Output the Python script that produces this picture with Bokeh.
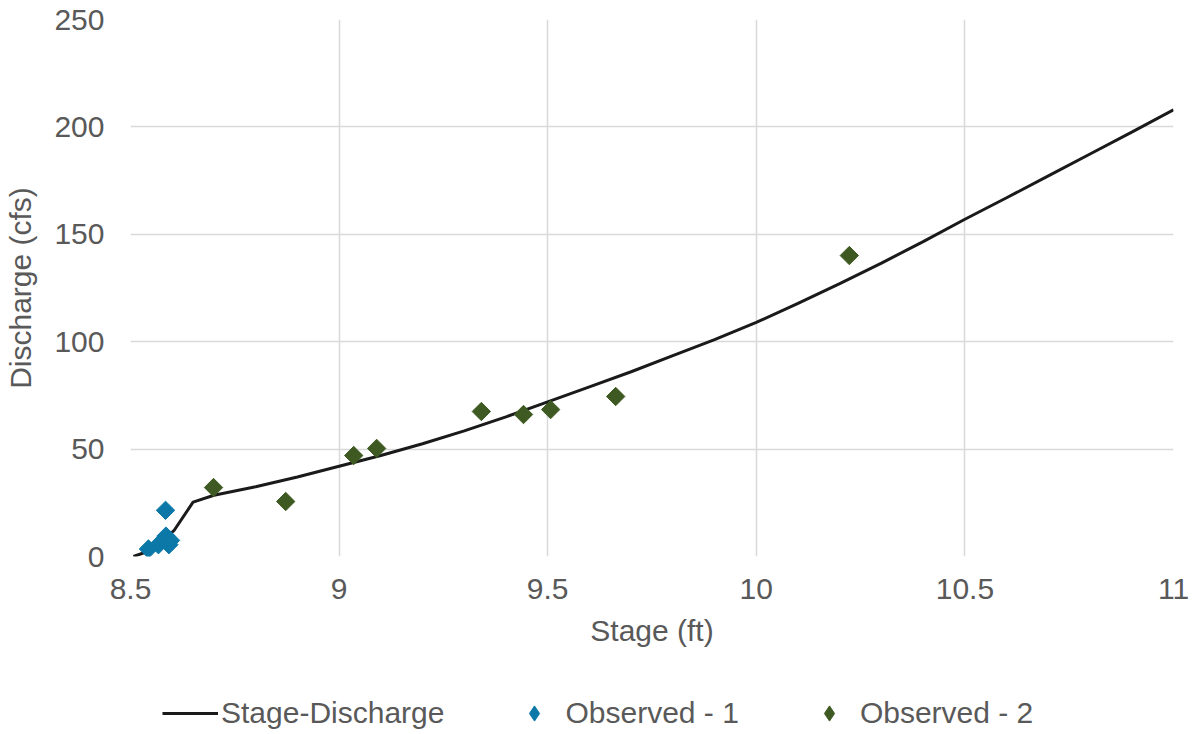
import math
from bokeh.plotting import figure
from bokeh.layouts import column
from bokeh.models import Range1d, Legend, LegendItem, FixedTicker
from bokeh.embed import file_html
from bokeh.resources import INLINE

# Rating curve
curve_stage = [8.507, 8.548, 8.604, 8.65, 8.7, 8.8, 8.9, 9.0, 9.1, 9.2, 9.3, 9.4, 9.5,
               9.6, 9.7, 9.8, 9.9, 10.0, 10.1, 10.2, 10.3, 10.4, 10.5, 10.6, 10.7,
               10.8, 10.9, 11.0]
curve_q = [0, 2.8, 12, 25.3, 28.5, 32.5, 37, 42, 47, 52.5, 58.5, 65, 72,
           79, 86, 93.5, 101, 109, 117.8, 127, 136.6, 146.6, 157, 167, 177.2,
           187.4, 197.6, 208]

obs1_stage = [8.543, 8.567, 8.585, 8.592, 8.596, 8.584]
obs1_q = [3.5, 5.5, 9.5, 5.5, 7.5, 21.5]

obs2_stage = [8.699, 8.872, 9.035, 9.09, 9.341, 9.442, 9.507, 9.663, 10.223]
obs2_q = [32.1, 25.6, 47, 50.3, 67.5, 66.1, 68.4, 74.5, 140.1]

x_ticks = [8.5, 9, 9.5, 10, 10.5, 11]
y_ticks = [0, 50, 100, 150, 200, 250]
series_names = ["Stage-Discharge", "Observed - 1", "Observed - 2"]

FONT = "Liberation Sans"
TXT = "#595959"
GRID = "#d9d9d9"
BLUE = "#0b78a8"
GREEN = "#3e5a22"
LINE = "#1a1a1a"

W, H = 1190, 668
p = figure(width=W, height=H, output_backend="svg", toolbar_location=None,
           x_range=Range1d(8.5, 11), y_range=Range1d(0, 250),
           min_border_left=130, min_border_top=19, min_border_right=W - 1173,
           min_border_bottom=H - 556)
p.outline_line_color = None
p.background_fill_color = "white"

for ax in (p.xaxis, p.yaxis):
    ax.axis_line_color = None
    ax.major_tick_line_color = None
    ax.minor_tick_line_color = None
    ax.major_label_text_font = FONT
    ax.major_label_text_font_size = "30px"
    ax.major_label_text_color = TXT
    ax.axis_label_text_font = FONT
    ax.axis_label_text_font_size = "30px"
    ax.axis_label_text_color = TXT
    ax.axis_label_text_font_style = "normal"

p.xaxis.ticker = FixedTicker(ticks=x_ticks)
p.yaxis.ticker = FixedTicker(ticks=y_ticks)
p.xaxis.major_label_overrides = {8.5: "8.5", 9: "9", 9.5: "9.5", 10: "10", 10.5: "10.5", 11: "11"}
p.xaxis.axis_label = "Stage (ft)"
p.yaxis.axis_label = "Discharge (cfs)"
p.xaxis.major_label_standoff = 16
p.yaxis.major_label_standoff = 20
p.xaxis.axis_label_standoff = 12
p.yaxis.axis_label_standoff = 14

p.xgrid.grid_line_color = GRID
p.ygrid.grid_line_color = GRID
p.xgrid.grid_line_width = 1.5
p.ygrid.grid_line_width = 1.5

p.line(curve_stage, curve_q, line_color=LINE, line_width=3)
p.scatter(obs1_stage, obs1_q, marker="square", angle=math.pi / 4, size=13,
          fill_color=BLUE, line_color=BLUE)
p.scatter(obs2_stage, obs2_q, marker="square", angle=math.pi / 4, size=13,
          fill_color=GREEN, line_color=GREEN)

# Legend in its own strip below the chart
LH = 64
lf = figure(width=W, height=LH, output_backend="svg", toolbar_location=None,
            x_range=Range1d(0, 1), y_range=Range1d(0, 1),
            x_axis_location=None, y_axis_location=None,
            min_border_left=0, min_border_right=0, min_border_top=0, min_border_bottom=0)
lf.grid.visible = False
lf.outline_line_color = None

# placeholder renderers (kept outside the visible range) that only feed the legend
hx, hy = [-5, -4], [-5, -4]
r0 = lf.line(hx, hy, line_color=LINE, line_width=3)
r1 = lf.scatter(hx, hy, marker="diamond", size=14, fill_color=BLUE, line_color=BLUE)
r2 = lf.scatter(hx, hy, marker="diamond", size=14, fill_color=GREEN, line_color=GREEN)

legend = Legend(items=[
    LegendItem(label=series_names[0], renderers=[r0], index=0),
    LegendItem(label=series_names[1], renderers=[r1], index=0),
    LegendItem(label=series_names[2], renderers=[r2], index=0),
], orientation="horizontal", location=(32, 0))
legend.label_text_font = FONT
legend.label_text_font_size = "30px"
legend.label_text_color = TXT
legend.border_line_color = None
legend.background_fill_alpha = 0
legend.glyph_width = 56
legend.glyph_height = 38
legend.label_height = 36
legend.spacing = 62
legend.label_standoff = 3
legend.padding = 0
legend.margin = 0
lf.add_layout(legend, "center")

layout = column(p, lf, spacing=0)
open("out.html", "w").write(file_html(layout, INLINE))
